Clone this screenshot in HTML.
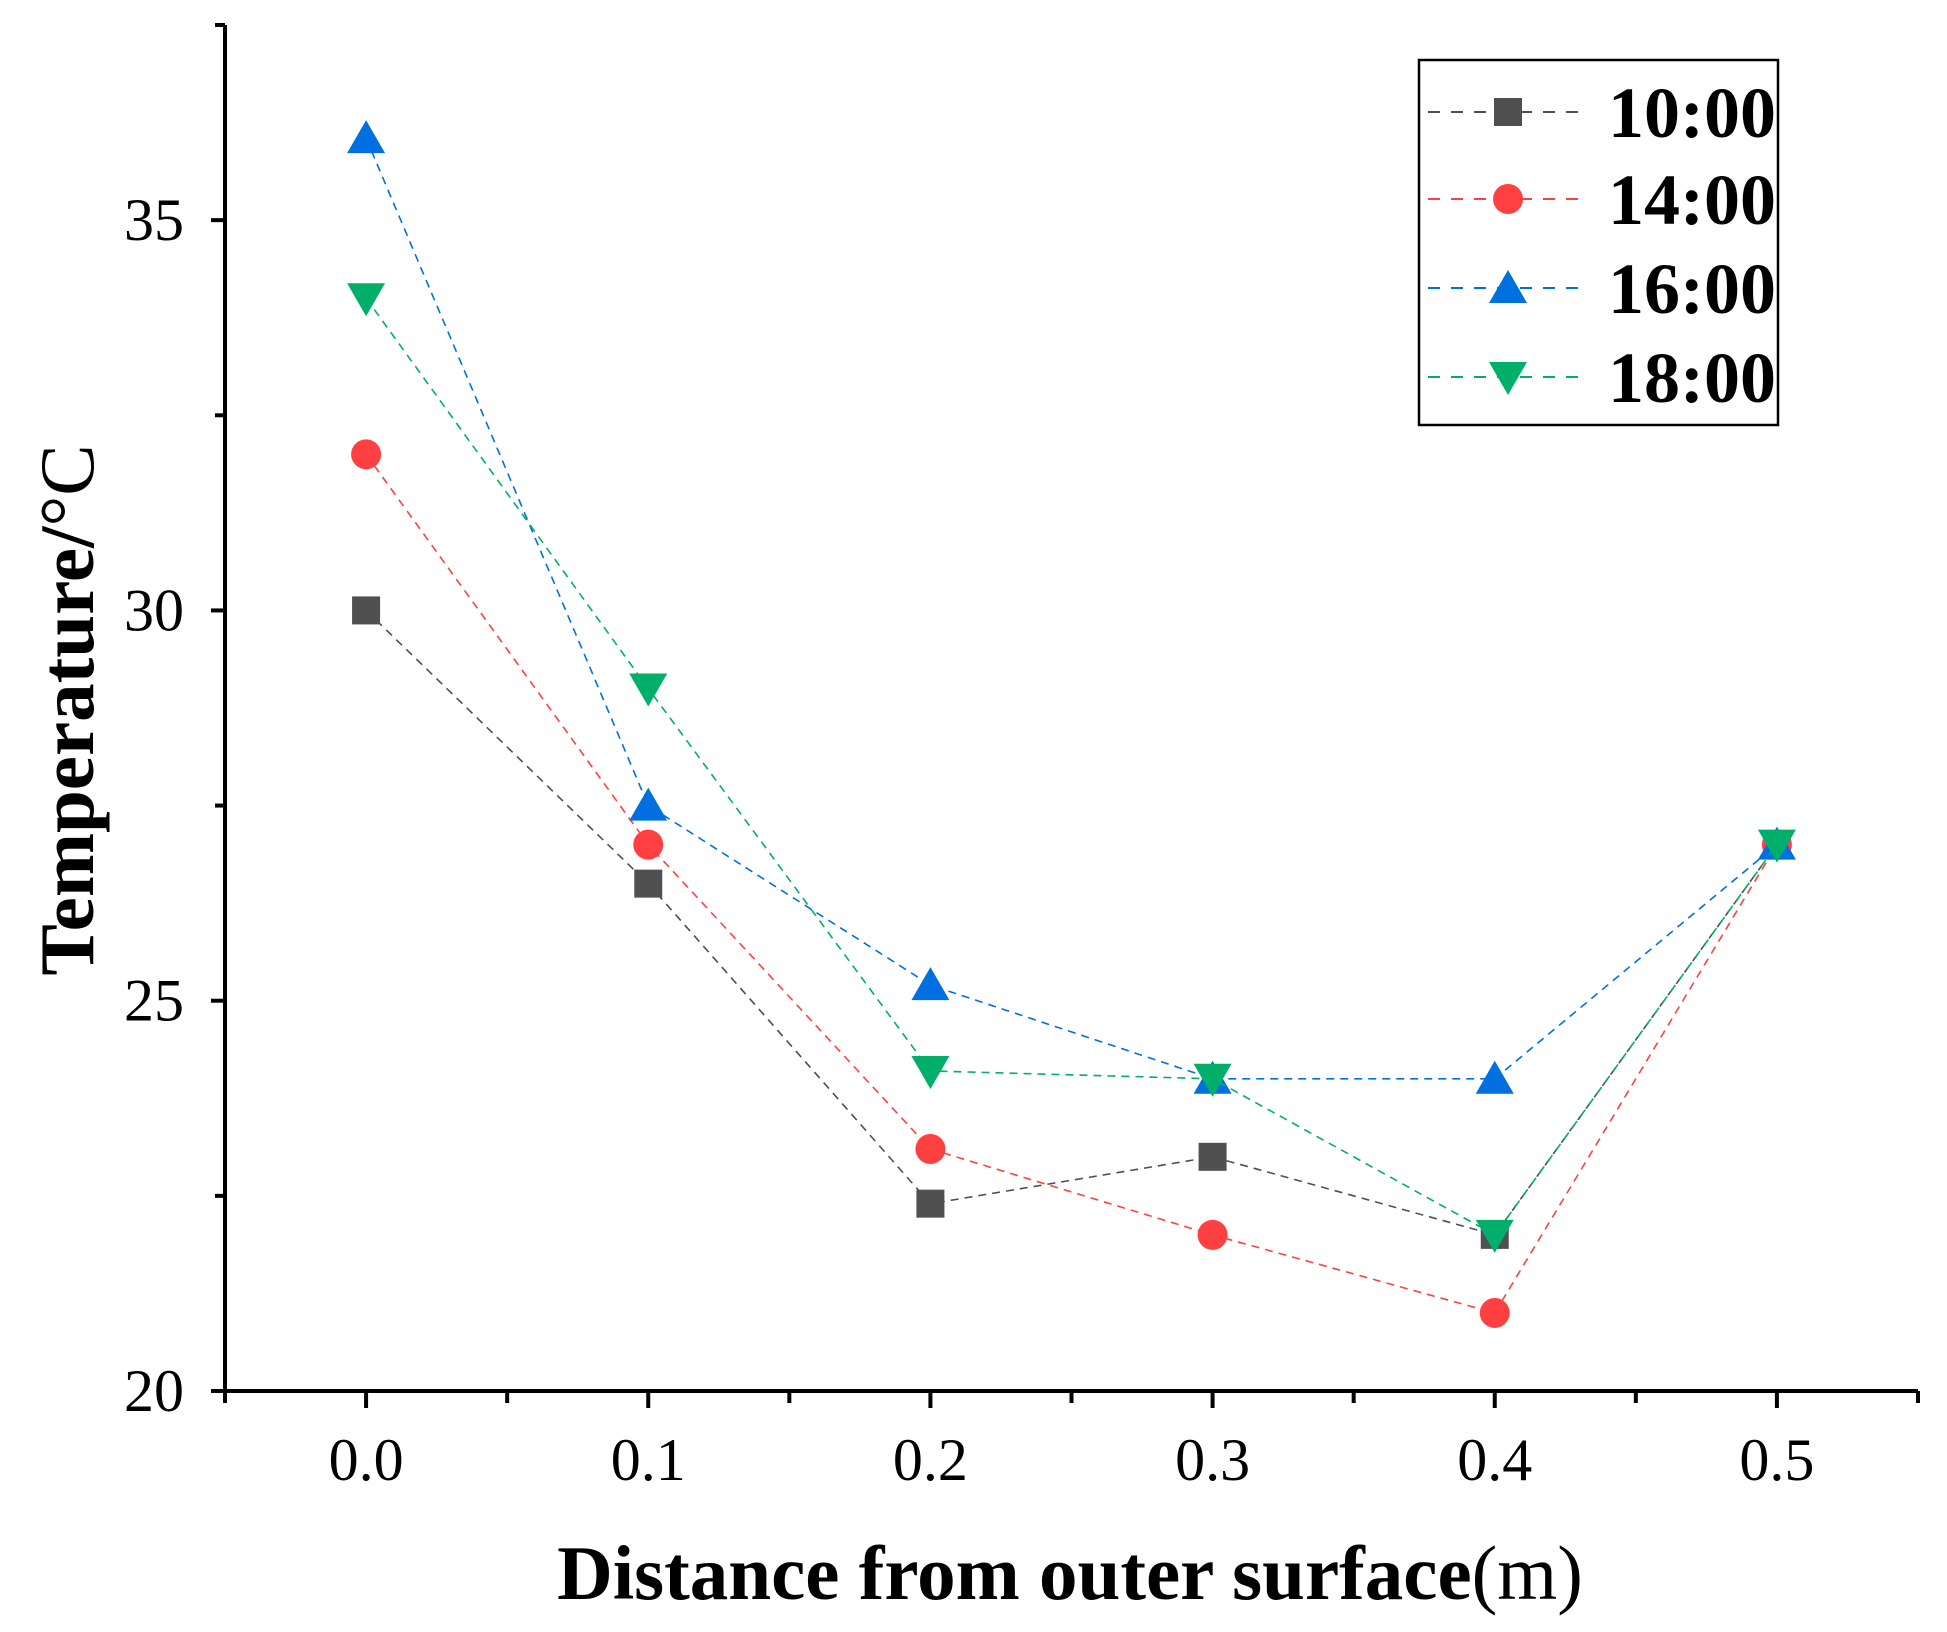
<!DOCTYPE html>
<html><head><meta charset="utf-8"><style>
html,body{margin:0;padding:0;background:#fff}
svg{display:block}
text{font-family:"Liberation Serif",serif}
</style></head><body>
<svg id="chart" width="1947" height="1632" viewBox="0 0 1947 1632" xmlns="http://www.w3.org/2000/svg"></svg>
<script>
const categories = [0.0, 0.1, 0.2, 0.3, 0.4, 0.5];
const seriesNames = ["10:00", "14:00", "16:00", "18:00"];
const s1000 = [30, 26.5, 22.4, 23, 22, 27];
const s1400 = [32, 27, 23.1, 22, 21, 27];
const s1600 = [36.05, 27.5, 25.2, 24, 24, 27];
const s1800 = [34, 29, 24.1, 24, 22, 27];
const xTickLabels = ["0.0", "0.1", "0.2", "0.3", "0.4", "0.5"];
const yTickValues = [20, 25, 30, 35];

const NS = "http://www.w3.org/2000/svg";
const svg = document.getElementById("chart");
const L = 225, R = 1918, T = 25, B = 1391;
const xMin = -0.05, xMax = 0.55, yMin = 20, yMax = 37.5;
const xs = v => L + (v - xMin) / (xMax - xMin) * (R - L);
const ys = v => B - (v - yMin) / (yMax - yMin) * (B - T);
function el(tag, attrs, parent) {
  const e = document.createElementNS(NS, tag);
  for (const k in attrs) e.setAttribute(k, attrs[k]);
  (parent || svg).appendChild(e);
  return e;
}
const colors = ["#505050", "#ff4040", "#0070e0", "#00b06a"];
const shapes = ["square", "circle", "up", "down"];
const allSeries = [s1000, s1400, s1600, s1800];

function marker(shape, cx, cy, color, parent) {
  let m;
  if (shape === "square") m = el("rect", {x: cx - 14, y: cy - 14, width: 28, height: 28, fill: color}, parent);
  else if (shape === "circle") m = el("circle", {cx: cx, cy: cy, r: 15, fill: color}, parent);
  else if (shape === "up") m = el("polygon", {points: `${cx},${cy-18} ${cx+19},${cy+15} ${cx-19},${cy+15}`, fill: color}, parent);
  else m = el("polygon", {points: `${cx},${cy+18} ${cx+19},${cy-15} ${cx-19},${cy-15}`, fill: color}, parent);
  return m;
}

const axes = el("g", {});


el("line", {x1: L, y1: T, x2: L, y2: B + 2, stroke: "#000", "stroke-width": 4}, axes);
el("line", {x1: L - 2, y1: B, x2: R, y2: B, stroke: "#000", "stroke-width": 4}, axes);
for (let v = -0.05; v <= 0.551; v += 0.05) {
  const major = Math.abs(Math.round(v * 10) - v * 10) < 1e-6;
  el("line", {x1: xs(v), y1: B, x2: xs(v), y2: B + (major ? 17 : 12), stroke: "#000", "stroke-width": 4}, axes);
}
categories.forEach((c, i) => {
  const t = el("text", {x: xs(c), y: 1480, "font-size": 60, "text-anchor": "middle"}, axes);
  t.textContent = xTickLabels[i];
  
  
});
for (let v = 20; v <= 37.5; v += 2.5) {
  const major = v % 5 === 0;
  el("line", {x1: L, y1: ys(v), x2: L - (major ? 14 : 10), y2: ys(v), stroke: "#000", "stroke-width": 4}, axes);
}
yTickValues.forEach(v => {
  const t = el("text", {x: 184, y: ys(v) + 20, "font-size": 60, "text-anchor": "end"}, axes);
  t.textContent = String(v);
  
  
});
const xt = el("text", {x: 1070, y: 1599, "font-size": 77, "text-anchor": "middle"});


xt.innerHTML = '<tspan font-weight="bold">Distance from outer surface</tspan><tspan>(m)</tspan>';
const yt = el("text", {x: 0, y: 0, "font-size": 77, "text-anchor": "middle", transform: "translate(93,710) rotate(-90)"});


yt.innerHTML = '<tspan font-weight="bold">Temperature/</tspan><tspan>°C</tspan>';

allSeries.forEach((vals, si) => {
  const g = el("g", {});
  
  
  const pts = vals.map((v, i) => xs(categories[i]) + "," + ys(v)).join(" ");
  el("polyline", {points: pts, fill: "none", stroke: colors[si], "stroke-width": 1.6, "stroke-dasharray": "8,6"}, g);
  vals.forEach((v, i) => {
    const m = marker(shapes[si], xs(categories[i]), ys(v), colors[si], g);
    
    
  });
});

const lg = el("g", {});


el("rect", {x: 1419, y: 60, width: 359, height: 365, fill: "#fff", stroke: "#000", "stroke-width": 2.5}, lg);
const ly = [112, 199, 288, 377];
seriesNames.forEach((n, i) => {
  const e = el("g", {}, lg);
  
  
  el("line", {x1: 1428, y1: ly[i], x2: 1589, y2: ly[i], stroke: colors[i], "stroke-width": 2, "stroke-dasharray": "12,11"}, e);
  marker(shapes[i], 1508, ly[i], colors[i], e);
  const t = el("text", {x: 1608, y: ly[i] + 25, "font-size": 72, "font-weight": "bold"}, e);
  t.textContent = n;
});
</script>
</body></html>
